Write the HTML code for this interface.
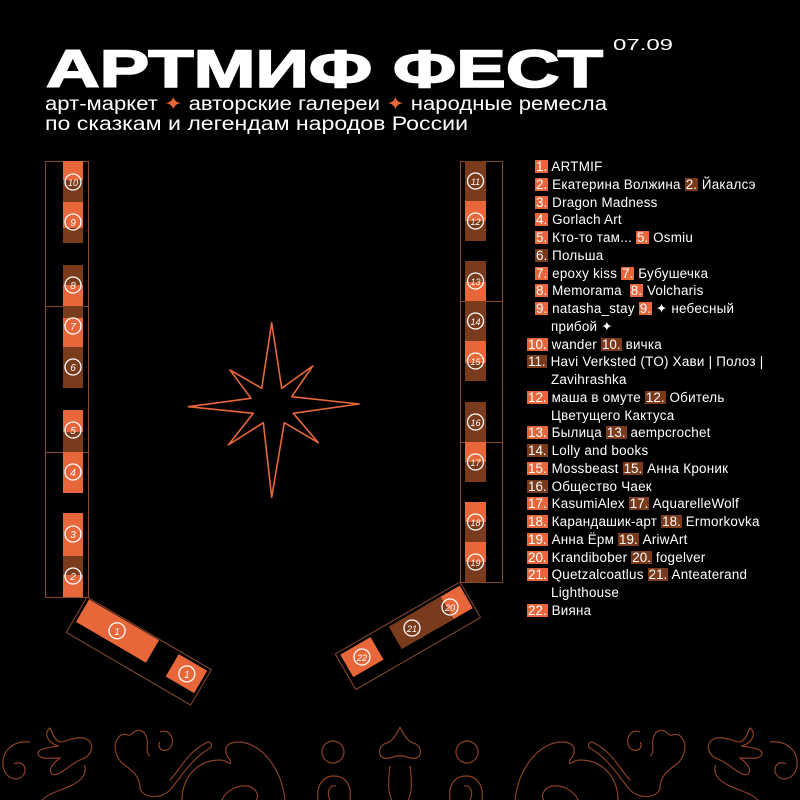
<!DOCTYPE html>
<html><head><meta charset="utf-8"><style>
html,body{margin:0;padding:0;background:#000;}
body{position:relative;width:800px;height:800px;overflow:hidden}
svg{display:block;position:absolute;left:0;top:0}
text{font-family:"Liberation Sans","DejaVu Sans",sans-serif;}
#lg{position:absolute;left:0;top:158px;font-family:"Liberation Sans","DejaVu Sans",sans-serif;font-size:13.4px;color:#fff;letter-spacing:0.25px}
#lg div{height:17.76px;line-height:17.76px;white-space:nowrap;position:relative}
#lg .n{display:inline-block;height:13px;line-height:13px;padding:0 1px;color:#fff;letter-spacing:0}
.o{background:#e8673a}.b{background:#7a3a1c}
</style></head><body>
<svg width="800" height="800" viewBox="0 0 800 800" xmlns="http://www.w3.org/2000/svg">
<rect width="800" height="800" fill="#000"/>
<text x="46" y="87" font-size="53" font-weight="bold" fill="#fff" stroke="#fff" stroke-width="1.6" textLength="557" lengthAdjust="spacingAndGlyphs">АРТМИФ ФЕСТ</text>
<text x="613" y="50" font-size="16" fill="#fff" textLength="60" lengthAdjust="spacingAndGlyphs">07.09</text>
<text x="45" y="110" font-size="19" fill="#fff" textLength="562" lengthAdjust="spacingAndGlyphs">арт-маркет <tspan fill="#e8673a">✦</tspan> авторские галереи <tspan fill="#e8673a">✦</tspan> народные ремесла</text>
<text x="45" y="130" font-size="19" fill="#fff" textLength="423" lengthAdjust="spacingAndGlyphs">по сказкам и легендам народов России</text>

<g>
<rect x="45.5" y="161.5" width="43" height="436" fill="none" stroke="#8a4a30" stroke-width="1"/>
<line x1="45" y1="306.5" x2="88" y2="306.5" stroke="#8a4a30"/>
<line x1="45" y1="452.5" x2="88" y2="452.5" stroke="#8a4a30"/>
<rect x="63" y="161" width="20" height="41" fill="#7a3a1c"/><rect x="63" y="161" width="20" height="19" fill="#e8673a"/>
<rect x="63" y="202" width="20" height="41" fill="#7a3a1c"/><rect x="63" y="202" width="20" height="26" fill="#e8673a"/>
<rect x="63" y="265" width="20" height="41" fill="#e8673a"/><rect x="63" y="265" width="20" height="20" fill="#7a3a1c"/>
<rect x="63" y="306" width="20" height="41" fill="#e8673a"/><rect x="63" y="306" width="20" height="12" fill="#7a3a1c"/>
<rect x="63" y="347" width="20" height="41" fill="#7a3a1c"/>
<rect x="63" y="410" width="20" height="42" fill="#7a3a1c"/><rect x="63" y="410" width="20" height="22" fill="#e8673a"/>
<rect x="63" y="452" width="20" height="41" fill="#e8673a"/>
<rect x="63" y="513" width="20" height="43" fill="#e8673a"/>
<rect x="63" y="556" width="20" height="41" fill="#e8673a"/><rect x="63" y="556" width="20" height="19" fill="#7a3a1c"/>
</g>
<g>
<rect x="460.5" y="161.5" width="42" height="421" fill="none" stroke="#8a4a30" stroke-width="1"/>
<line x1="460" y1="301.5" x2="503" y2="301.5" stroke="#8a4a30"/>
<line x1="460" y1="442.5" x2="503" y2="442.5" stroke="#8a4a30"/>
<rect x="465" y="161" width="21" height="40" fill="#7a3a1c"/>
<rect x="465" y="201" width="21" height="40" fill="#7a3a1c"/><rect x="465" y="201" width="21" height="20" fill="#e8673a"/>
<rect x="465" y="261" width="21" height="40" fill="#e8673a"/><rect x="465" y="261" width="21" height="21" fill="#7a3a1c"/>
<rect x="465" y="301" width="21" height="40" fill="#7a3a1c"/>
<rect x="465" y="341" width="21" height="40" fill="#7a3a1c"/><rect x="465" y="341" width="21" height="22" fill="#e8673a"/>
<rect x="465" y="402" width="21" height="40" fill="#7a3a1c"/>
<rect x="465" y="442" width="21" height="40" fill="#7a3a1c"/><rect x="465" y="442" width="21" height="20" fill="#e8673a"/>
<rect x="465" y="502" width="21" height="40" fill="#7a3a1c"/><rect x="465" y="502" width="21" height="20" fill="#e8673a"/>
<rect x="465" y="542" width="21" height="40" fill="#7a3a1c"/><rect x="465" y="542" width="21" height="20" fill="#e8673a"/>
</g>
<g transform="translate(87,597) rotate(30.3)">
<rect x="0" y="0" width="144" height="41" fill="none" stroke="#8a4a30"/>
<rect x="3" y="1" width="81" height="26" fill="#e8673a"/>
<rect x="108" y="3" width="33" height="26" fill="#e8673a"/>
<g fill="none" stroke="#fff" stroke-width="1.3"><circle cx="43" cy="14" r="8"/><circle cx="125" cy="16" r="8"/></g>
<g fill="#fff" font-size="10" font-style="italic" text-anchor="middle"><text x="43" y="18" transform="rotate(-30.3 43 14)">1</text><text x="125" y="20" transform="rotate(-30.3 125 16)">1</text></g>
</g>
<g transform="translate(460,582) rotate(-30)">
<rect x="-144" y="0" width="144" height="41" fill="none" stroke="#8a4a30"/>
<rect x="-42" y="3" width="40" height="26" fill="#e8673a"/>
<rect x="-42" y="3" width="18" height="26" fill="#7a3a1c"/>
<rect x="-84" y="3" width="42" height="26" fill="#7a3a1c"/>
<rect x="-140" y="3" width="35" height="26" fill="#e8673a"/>
</g>
<g fill="none" stroke="#fff" stroke-width="1.3">
<circle cx="73" cy="182" r="8"/><circle cx="73" cy="222" r="8"/><circle cx="73" cy="285" r="8"/><circle cx="73" cy="326" r="8"/><circle cx="73" cy="367" r="8"/><circle cx="73" cy="430" r="8"/><circle cx="73" cy="472" r="8"/><circle cx="73" cy="534" r="8"/><circle cx="73" cy="576" r="8"/>
<circle cx="475.5" cy="181" r="8"/><circle cx="475.5" cy="221" r="8"/><circle cx="475.5" cy="281" r="8"/><circle cx="475.5" cy="321" r="8"/><circle cx="475.5" cy="361" r="8"/><circle cx="475.5" cy="422" r="8"/><circle cx="475.5" cy="462" r="8"/><circle cx="475.5" cy="522" r="8"/><circle cx="475.5" cy="562" r="8"/>
<circle cx="450" cy="607" r="8"/><circle cx="412" cy="628" r="8"/><circle cx="362" cy="657" r="8"/>
</g>
<g fill="#fff" font-size="10" text-anchor="middle" font-style="italic">
<text x="73" y="186" font-size="9">10</text><text x="73" y="226">9</text><text x="73" y="289">8</text><text x="73" y="330">7</text><text x="73" y="371">6</text><text x="73" y="434">5</text><text x="73" y="476">4</text><text x="73" y="538">3</text><text x="73" y="580">2</text>
<text x="475.5" y="185" font-size="9">11</text><text x="475.5" y="225" font-size="9">12</text><text x="475.5" y="285" font-size="9">13</text><text x="475.5" y="325" font-size="9">14</text><text x="475.5" y="365" font-size="9">15</text><text x="475.5" y="426" font-size="9">16</text><text x="475.5" y="466" font-size="9">17</text><text x="475.5" y="526" font-size="9">18</text><text x="475.5" y="566" font-size="9">19</text>
<text x="450" y="611" font-size="9">20</text><text x="412" y="632" font-size="9">21</text><text x="362" y="661" font-size="9">22</text>
</g>
<polygon points="271.7,322.7 281.7,388.3 312.7,366 291.7,396.7 359,404 293.3,413.3 318.3,442.7 284.3,422.7 271.7,497.3 263.3,422.7 228.3,445 253.3,413.3 188.3,406.7 251,398.3 230,370 261.7,388.3" fill="none" stroke="#e8673a" stroke-width="1.6" stroke-linejoin="round"/>

<g fill="none" stroke="#8a4024" stroke-width="1.2">
<g id="orn">
<path d="M30,742 C12,740 2,752 3,765 C4,778 18,784 24,774 C28,766 20,760 14,764"/>
<path d="M50,728 C44,732 46,742 58,746 C48,748 38,748 38,754 C40,760 50,758 60,758 C52,764 48,770 52,774 C58,778 70,764 80,760 C92,756 95,745 88,740 C80,734 66,742 60,742 C54,740 52,732 50,728 Z"/>
<path d="M42,800 C52,790 70,790 82,778 C86,772 86,768 84,765"/>
<path d="M118,738 C112,746 116,760 126,766 C134,772 140,778 140,788 C142,798 160,800 170,790 C182,776 190,760 210,748 C214,744 210,740 204,744 C186,754 180,770 170,780"/>
<path d="M118,738 C124,730 128,738 132,734 C136,728 144,730 146,736 C150,744 144,752 150,756"/>
<path d="M160,732 C170,728 176,740 170,748 C164,754 156,748 160,742"/>
<path d="M182,800 C182,780 195,760 220,760 C228,760 232,768 230,760 C222,750 226,742 238,742 C262,742 282,770 285,800"/>
<path d="M222,800 C226,790 238,785 248,786 C256,788 260,796 256,800"/>
<circle cx="333" cy="752" r="11"/>
<path d="M318,800 C316,784 324,776 334,776 C346,776 352,786 350,800"/>
<path d="M330,800 C326,792 330,784 336,786"/>
<path d="M400,727 C396,736 392,742 384,744 C378,748 378,756 384,758 C390,760 394,755 400,756"/>
<path d="M390,766 C388,780 388,795 392,800"/>
</g>
<use href="#orn" transform="translate(800,0) scale(-1,1)"/>
</g>
</svg>
<div id="lg">
<div style="left:535px"><span class="n o">1.</span> ARTMIF</div>
<div style="left:535px"><span class="n o">2.</span> Екатерина Волжина <span class="n b">2.</span> Йакалсэ</div>
<div style="left:535px"><span class="n o">3.</span> Dragon Madness</div>
<div style="left:535px"><span class="n o">4.</span> Gorlach Art</div>
<div style="left:535px"><span class="n o">5.</span> Кто-то там... <span class="n o">5.</span> Osmiu</div>
<div style="left:535px"><span class="n b">6.</span> Польша</div>
<div style="left:535px"><span class="n o">7.</span> epoxy kiss <span class="n o">7.</span> Бубушечка</div>
<div style="left:535px"><span class="n o">8.</span> Memorama &nbsp;<span class="n o">8.</span> Volcharis</div>
<div style="left:535px"><span class="n o">9.</span> natasha_stay <span class="n o">9.</span> ✦ небесный</div>
<div style="left:551px">прибой ✦</div>
<div style="left:527px"><span class="n o">10.</span> wander <span class="n b">10.</span> вичка</div>
<div style="left:527px"><span class="n b">11.</span> Havi Verksted (TO) Хави | Полоз |</div>
<div style="left:551px">Zavihrashka</div>
<div style="left:527px"><span class="n o">12.</span> маша в омуте <span class="n b">12.</span> Обитель</div>
<div style="left:551px">Цветущего Кактуса</div>
<div style="left:527px"><span class="n o">13.</span> Былица <span class="n b">13.</span> aempcrochet</div>
<div style="left:527px"><span class="n b">14.</span> Lolly and books</div>
<div style="left:527px"><span class="n o">15.</span> Mossbeast <span class="n b">15.</span> Анна Кроник</div>
<div style="left:527px"><span class="n b">16.</span> Общество Чаек</div>
<div style="left:527px"><span class="n o">17.</span> KasumiAlex <span class="n b">17.</span> AquarelleWolf</div>
<div style="left:527px"><span class="n o">18.</span> Карандашик-арт <span class="n b">18.</span> Ermorkovka</div>
<div style="left:527px"><span class="n o">19.</span> Анна Ёрм <span class="n b">19.</span> AriwArt</div>
<div style="left:527px"><span class="n o">20.</span> Krandibober <span class="n b">20.</span> fogelver</div>
<div style="left:527px"><span class="n o">21.</span> Quetzalcoatlus <span class="n b">21.</span> Anteaterand</div>
<div style="left:551px">Lighthouse</div>
<div style="left:527px"><span class="n o">22.</span> Вияна</div>
</div>
</body></html>
